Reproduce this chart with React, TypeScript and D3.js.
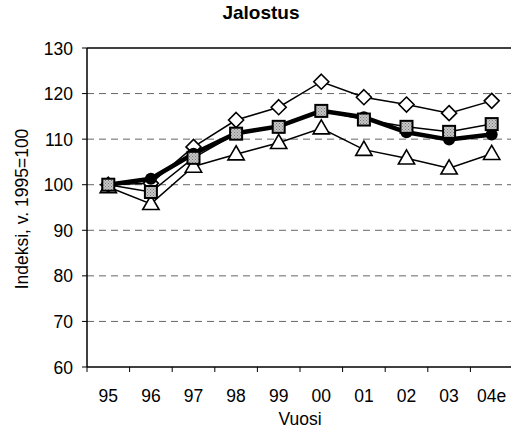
import React from "react";
import * as d3 from "d3";

const years = ["95", "96", "97", "98", "99", "00", "01", "02", "03", "04e"];
const diamondSeries = [100, 100.3, 108.3, 114.2, 117, 122.6, 119.2, 117.6, 115.7, 118.4];
const circleSeries = [100, 101.3, 106.8, 111.3, 112.8, 116.2, 114.8, 111.5, 109.9, 111];
const squareSeries = [100, 98.4, 105.9, 111.2, 112.7, 116.2, 114.3, 112.7, 111.6, 113.3];
const triangleSeries = [99.5, 95.8, 104, 106.7, 109.2, 112.4, 107.7, 105.8, 103.6, 106.8];
const yTicks = [60, 70, 80, 90, 100, 110, 120, 130];
const gridTicks = [70, 80, 90, 100, 110, 120];

const W = 511;
const H = 429;
const left = 87;
const top = 48;
const bottom = 367;
const bandW = 42.6;

export default function App() {
  const x = d3
    .scaleBand<string>()
    .domain(years)
    .range([left, left + bandW * years.length]);
  const y = d3.scaleLinear().domain([60, 130]).range([bottom, top]);
  const cx = (i: number) => (x(years[i]) as number) + x.bandwidth() / 2;
  const line = d3
    .line<number>()
    .x((_, i) => cx(i))
    .y((d) => y(d));
  const font = "Liberation Sans, Arial, sans-serif";

  const triangle = d3.symbol().type(d3.symbolTriangle).size(115);
  const dS = 7.5;
  const diamondPath = `M0,${-dS}L${dS},0L0,${dS}L${-dS},0Z`;

  return (
    <svg
      width={W}
      height={H}
      style={{ position: "absolute", left: 0, top: 0, background: "#fff" }}
      fontFamily={font}
    >
      <defs>
        <pattern id="stip" width="3" height="3" patternUnits="userSpaceOnUse">
          <rect width="3" height="3" fill="#c8c8c8" />
          <rect x="0" y="0" width="1" height="1" fill="#777" />
          <rect x="1.5" y="1.5" width="1" height="1" fill="#777" />
        </pattern>
      </defs>
      <text x={261} y={18.5} textAnchor="middle" fontWeight="bold" fontSize={19}>
        Jalostus
      </text>
      {gridTicks.map((t) => (
        <line
          key={t}
          x1={left}
          x2={W}
          y1={y(t)}
          y2={y(t)}
          stroke="#666"
          strokeWidth={1}
          strokeDasharray="7,5"
        />
      ))}
      {/* frame */}
      <line x1={left} x2={W} y1={top} y2={top} stroke="#000" strokeWidth={1.5} />
      <line x1={left} x2={W} y1={bottom} y2={bottom} stroke="#000" strokeWidth={1.5} />
      <line x1={left} x2={left} y1={top} y2={bottom} stroke="#000" strokeWidth={1.5} />
      {yTicks.map((t) => (
        <g key={t}>
          <line x1={left - 5} x2={left} y1={y(t)} y2={y(t)} stroke="#000" />
          <text x={73} y={y(t) + 6.5} textAnchor="end" fontSize={17.5}>
            {t}
          </text>
        </g>
      ))}
      {years.map((yr, i) => (
        <g key={yr}>
          <line
            x1={x(yr) as number}
            x2={x(yr) as number}
            y1={bottom}
            y2={bottom + 5}
            stroke="#000"
          />
          <text x={cx(i)} y={401.5} textAnchor="middle" fontSize={17.5}>
            {yr}
          </text>
        </g>
      ))}
      <text x={300} y={425} textAnchor="middle" fontSize={17.5}>
        Vuosi
      </text>
      <text
        transform={`translate(28,209) rotate(-90)`}
        textAnchor="middle"
        fontSize={17.5}
      >
        Indeksi, v. 1995=100
      </text>

      {/* triangle series */}
      <path d={line(triangleSeries) || ""} fill="none" stroke="#000" strokeWidth={1.5} />
      {triangleSeries.map((v, i) => (
        <path
          key={"t" + i}
          d={triangle() || ""}
          transform={`translate(${cx(i)},${y(v) + 1})`}
          fill="#fff"
          stroke="#000"
          strokeWidth={1.6}
        />
      ))}
      {/* diamond series */}
      <path d={line(diamondSeries) || ""} fill="none" stroke="#000" strokeWidth={1.5} />
      {diamondSeries.map((v, i) => (
        <path
          key={"d" + i}
          d={diamondPath}
          transform={`translate(${cx(i)},${y(v)})`}
          fill="#fff"
          stroke="#000"
          strokeWidth={1.6}
        />
      ))}
      {/* circle series */}
      <path d={line(circleSeries) || ""} fill="none" stroke="#000" strokeWidth={4.5} />
      {circleSeries.map((v, i) => (
        <circle key={"c" + i} cx={cx(i)} cy={y(v)} r={6} fill="#000" />
      ))}
      {/* square series */}
      <path d={line(squareSeries) || ""} fill="none" stroke="#000" strokeWidth={1.5} />
      {squareSeries.map((v, i) => (
        <rect
          key={"s" + i}
          x={cx(i) - 6}
          y={y(v) - 6}
          width={12}
          height={12}
          fill="url(#stip)"
          stroke="#000"
          strokeWidth={2}
        />
      ))}
    </svg>
  );
}
